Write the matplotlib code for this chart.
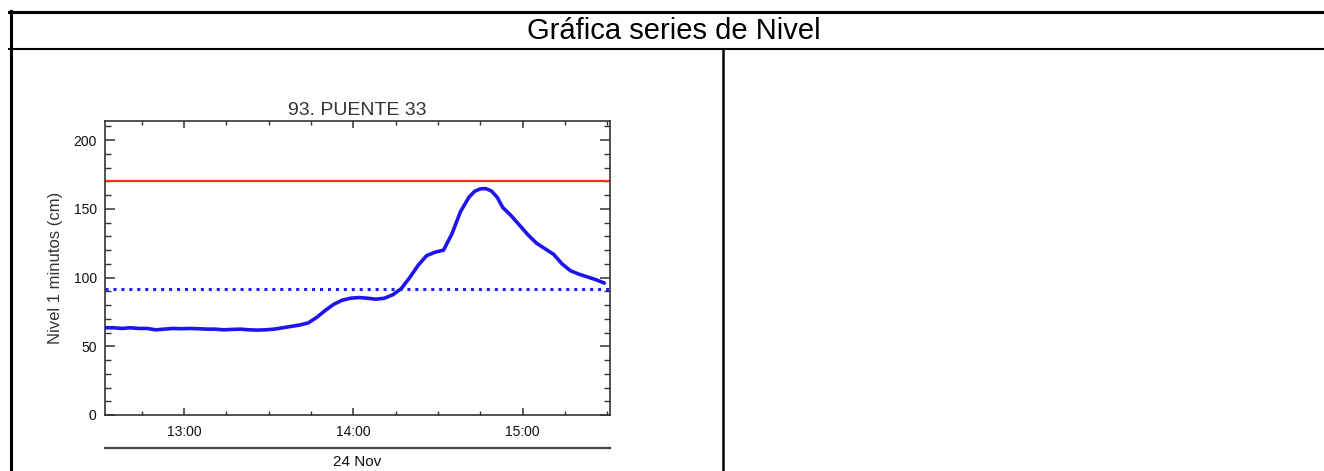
import matplotlib
matplotlib.use("Agg")
import matplotlib.pyplot as plt
import matplotlib.dates as mdates
from matplotlib.lines import Line2D
from matplotlib.ticker import MultipleLocator
import datetime as dt

plt.rcParams['font.family'] = ['Liberation Sans', 'DejaVu Sans']

page_title = "Gráfica series de Nivel"
chart_title = "93. PUENTE 33"
y_label = "Nivel 1 minutos (cm)"
date_label = "24 Nov"

times = ["12:32", "12:35", "12:38", "12:41", "12:44", "12:47", "12:50", "12:53", "12:56", "12:59",
         "13:02", "13:05", "13:08", "13:11", "13:14", "13:17", "13:20", "13:23", "13:26", "13:29",
         "13:32", "13:35", "13:38", "13:41", "13:44", "13:47", "13:50", "13:53", "13:56", "13:59",
         "14:02", "14:05", "14:08", "14:11", "14:14", "14:17", "14:20", "14:23", "14:26", "14:29",
         "14:32", "14:35", "14:38", "14:41", "14:43", "14:45", "14:47", "14:49", "14:51", "14:53",
         "14:56", "14:59", "15:02", "15:05", "15:08", "15:11", "15:14", "15:17", "15:20", "15:23",
         "15:26", "15:29"]
levels = [63.5, 63.5, 63.0, 63.5, 63.0, 63.0, 62.0, 62.5, 63.0, 62.8,
          63.0, 62.8, 62.5, 62.5, 62.0, 62.3, 62.5, 62.0, 61.8, 62.0,
          62.5, 63.5, 64.5, 65.5, 67.0, 71.0, 76.0, 80.5, 83.5, 85.0,
          85.5, 85.0, 84.3, 85.0, 87.5, 92.0, 100.0, 109.0, 116.0, 118.5,
          120.0, 132.0, 148.0, 158.5, 162.8, 164.6, 164.8, 163.0, 158.5, 151.0,
          145.0, 138.0, 131.0, 125.0, 121.0, 117.0, 110.0, 105.0, 102.5, 100.5,
          98.5, 96.0]
red_level = 170
blue_level = 92
x_start, x_end = "12:32", "15:31"
y_max = 214

def t(s):
    h, m = map(int, s.split(":"))
    return dt.datetime(2023, 11, 24, h, m)

W, H = 1324, 471
fig = plt.figure(figsize=(W / 100, H / 100), dpi=100)

def fx(x):
    return x / W

def fy(y):
    return 1 - y / H

# table frame
fig.add_artist(Line2D([fx(9), fx(1324)], [fy(12.3), fy(12.3)], lw=2.2, color='black'))
fig.add_artist(Line2D([fx(9), fx(1324)], [fy(49.3), fy(49.3)], lw=1.5, color='black'))
fig.add_artist(Line2D([fx(10.5), fx(10.5)], [fy(11), fy(471)], lw=2.2, color='black'))
fig.add_artist(Line2D([fx(723), fx(723)], [fy(49), fy(471)], lw=1.8, color='black'))
fig.text(fx(674), fy(31), page_title, ha='center', va='center', fontsize=21, color='black')

# chart axes
L, R, T, B = 105, 610, 121, 415
ax = fig.add_axes([fx(L), fy(B), (R - L) / W, (B - T) / H])
x = [t(s) for s in times]
ax.plot(x, levels, color='#1e14f0', lw=2.6, solid_capstyle='round', solid_joinstyle='round', zorder=3)
ax.axhline(red_level, color='#ff2a1a', lw=1.6, zorder=2)
ax.axhline(blue_level, color='#2020ff', lw=2.2, linestyle=(0, (1, 1.6)), zorder=2)

ax.set_xlim(t(x_start), t(x_end))
ax.set_ylim(0, y_max)
ax.xaxis.set_major_locator(mdates.HourLocator())
ax.xaxis.set_minor_locator(mdates.MinuteLocator(byminute=[0, 15, 30, 45]))
ax.xaxis.set_major_formatter(mdates.DateFormatter('%H:%M'))
ax.yaxis.set_major_locator(MultipleLocator(50))
ax.yaxis.set_minor_locator(MultipleLocator(10))

for sp in ax.spines.values():
    sp.set_color('#333333')
    sp.set_linewidth(1.2)
ax.tick_params(axis='both', which='both', direction='in', top=True, right=True, color='#333333')
ax.tick_params(axis='y', which='major', length=7, width=1.1)
ax.tick_params(axis='y', which='minor', length=4, width=1.0)
ax.tick_params(axis='x', which='major', length=5, width=1.1, pad=7)
ax.tick_params(axis='x', which='minor', length=3, width=1.0)
ax.tick_params(axis='both', which='major', labelsize=10, labelcolor='#111111')
ax.tick_params(axis='y', pad=6)

ax.set_title(chart_title, fontsize=14, color='#333333', pad=4)
fig.text(fx(56), fy(268), y_label, rotation=90, ha='center', va='center', fontsize=12, color='#333333')

# date axis line
fig.add_artist(Line2D([fx(L), fx(R)], [fy(447.7), fy(447.7)], lw=1.6, color='#444444'))
fig.text(fx(357), fy(462), date_label, ha='center', va='center', fontsize=11, color='#111111')

fig.savefig("out.png", dpi=100)
